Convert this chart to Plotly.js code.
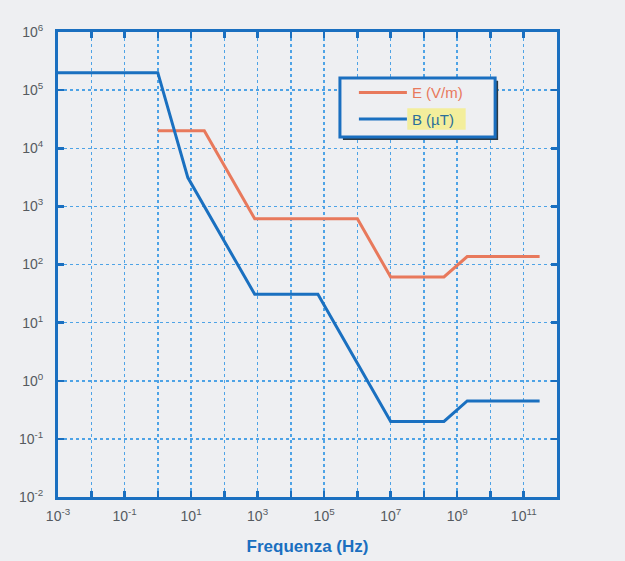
<!DOCTYPE html>
<html>
<head>
<meta charset="utf-8">
<script src="https://cdn.plot.ly/plotly-3.0.1.min.js"></script>
<style>
  html, body { margin: 0; padding: 0; background: #eeeff2; }
  #chart { width: 625px; height: 561px; }
</style>
</head>
<body>
<div id="chart"></div>
<script>
// Reference levels vs frequency (Hz)
const freqE = [1, 25, 820, 1e6, 1e7, 4e8, 2e9, 3e11];
const valE  = [20000, 20000, 610, 610, 61, 61, 137, 137];          // V/m

const freqB = [1e-3, 1, 8, 820, 65000, 1e7, 4e8, 2e9, 3e11];
const valB  = [200000, 200000, 3125, 30.7, 30.7, 0.2, 0.2, 0.45, 0.45]; // µT

const xLabelExponents = [-3, -1, 1, 3, 5, 7, 9, 11];
const xMinorExponents = [-2, 0, 2, 4, 6, 8, 10, 12];
const yExponents = [-2, -1, 0, 1, 2, 3, 4, 5, 6];

const frame = '#1a6fc0';
const gridBlue = '#4ea3e6';
const labelGrey = '#555a60';
const bg = '#eeeff2';
const font = 'Liberation Sans, Arial, sans-serif';

const pow10 = e => Math.pow(10, e);
const sup = e => '10<sup>' + e + '</sup>';

const traces = [
  { x: freqE, y: valE, name: '<span style="color:#e8795c">E (V/m)</span>', mode: 'lines',
    legendgroup: 'E', line: { color: '#e8795c', width: 3 } },
  { x: freqB, y: valB, name: '<span style="color:#2a6f9a">B (µT)</span>', mode: 'lines',
    legendgroup: 'B', line: { color: '#1a70c0', width: 3 } }
];

const gridStyle = { showgrid: true, gridcolor: gridBlue, gridwidth: 1.5, griddash: 'dot' };

const axisCommon = Object.assign({
  type: 'log',
  showline: true, linecolor: frame, linewidth: 3, mirror: 'ticks',
  ticks: 'inside', ticklen: 6, tickwidth: 2.5, tickcolor: frame,
  zeroline: false,
  tickfont: { family: font, size: 14, color: labelGrey }
}, gridStyle);

const layout = {
  width: 625, height: 561,
  margin: { l: 58, r: 68, t: 32, b: 64 },
  paper_bgcolor: bg,
  plot_bgcolor: bg,
  showlegend: true,
  xaxis: Object.assign({}, axisCommon, {
    range: [-3, 12], tickmode: 'array',
    tickvals: xLabelExponents.map(pow10), ticktext: xLabelExponents.map(sup),
    minor: Object.assign({ tickmode: 'array', tickvals: xMinorExponents.map(pow10),
                           ticks: 'inside', ticklen: 6, tickwidth: 2.5, tickcolor: frame }, gridStyle),
    ticklabelstandoff: 4,
    title: { text: 'Frequenza (Hz)', standoff: 18,
             font: { family: font, size: 17, color: frame, weight: 'bold' } }
  }),
  yaxis: Object.assign({}, axisCommon, {
    range: [-2, 6], tickmode: 'array',
    tickvals: yExponents.map(pow10), ticktext: yExponents.map(sup),
    ticklabelstandoff: 9
  }),
  legend: {
    x: 0.593, y: 0.905, xanchor: 'left', yanchor: 'top',
    bgcolor: 'rgba(0,0,0,0)', borderwidth: 0,
    itemwidth: 48, traceorder: 'grouped', tracegroupgap: 4,
    font: { family: font, size: 15, color: labelGrey }
  },
  shapes: [
    // legend frame: drop shadow, panel, highlight behind the B entry
    { type: 'rect', xref: 'paper', yref: 'paper', layer: 'above',
      x0: 0.571, x1: 0.882, y0: 0.768, y1: 0.895,
      fillcolor: '#2b3a44', line: { width: 0 } },
    { type: 'rect', xref: 'paper', yref: 'paper', layer: 'above',
      x0: 0.565, x1: 0.876, y0: 0.774, y1: 0.901,
      fillcolor: bg, line: { color: frame, width: 3 } },
    { type: 'rect', xref: 'paper', yref: 'paper', layer: 'above',
      x0: 0.700, x1: 0.817, y0: 0.790, y1: 0.836,
      fillcolor: '#f3ee9c', line: { width: 0 } }
  ]
};

Plotly.newPlot('chart', traces, layout, { displayModeBar: false, staticPlot: true });
</script>
</body>
</html>
